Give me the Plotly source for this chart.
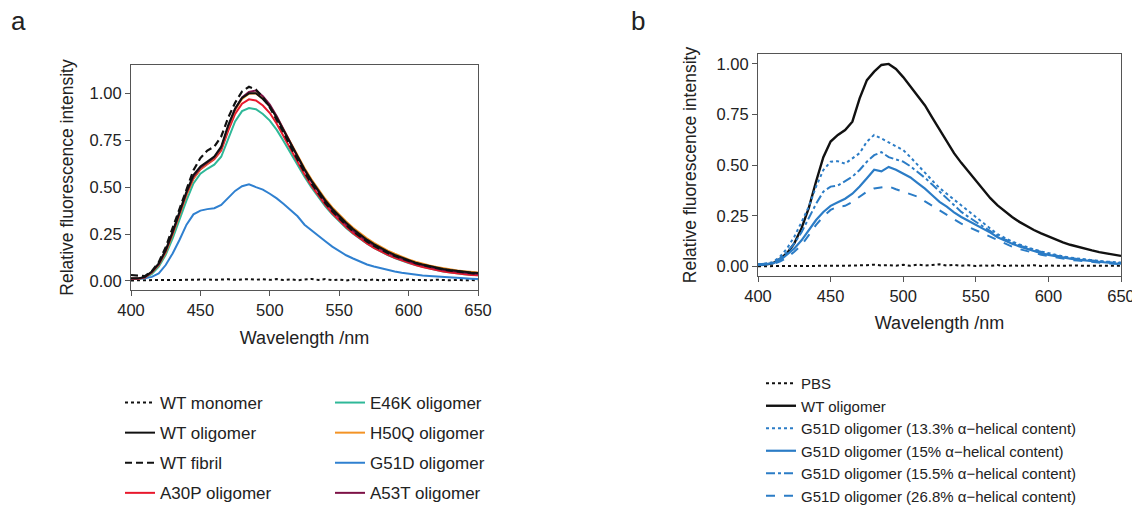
import plotly.graph_objects as go

# ---------------- data ----------------
wavelength = list(range(400, 655, 5))

# Panel a
a_wt_monomer = [0.003,0.004,0.003,0.005,0.004,0.006,0.005,0.006,0.005,0.007,0.006,0.008,0.006,0.007,0.009,0.006,0.008,0.010,0.007,0.009,0.006,0.010,0.005,0.009,0.004,0.008,0.011,0.006,0.010,0.004,0.008,0.003,0.009,0.006,0.004,0.008,0.003,0.007,0.005,0.004,0.008,0.004,0.006,0.003,0.007,0.005,0.004,0.006,0.003,0.005,0.004]
a_wt_oligomer = [0.015,0.014,0.022,0.050,0.094,0.165,0.263,0.370,0.476,0.565,0.610,0.636,0.663,0.716,0.830,0.920,0.975,1.000,1.000,0.970,0.930,0.870,0.800,0.730,0.660,0.595,0.535,0.480,0.430,0.385,0.345,0.310,0.277,0.247,0.220,0.196,0.175,0.156,0.139,0.124,0.110,0.098,0.088,0.079,0.071,0.064,0.058,0.053,0.049,0.045,0.042]
a_wt_fibril = [0.032,0.030,0.026,0.052,0.100,0.180,0.282,0.392,0.492,0.590,0.655,0.695,0.716,0.770,0.870,0.950,1.010,1.035,1.020,0.980,0.925,0.860,0.790,0.715,0.645,0.580,0.520,0.465,0.415,0.372,0.333,0.298,0.265,0.236,0.210,0.187,0.167,0.149,0.133,0.119,0.106,0.095,0.085,0.076,0.068,0.061,0.055,0.050,0.045,0.041,0.038]
a_a30p = [0.012,0.012,0.020,0.046,0.088,0.157,0.252,0.358,0.460,0.545,0.595,0.622,0.648,0.695,0.800,0.890,0.945,0.968,0.962,0.935,0.895,0.838,0.770,0.700,0.632,0.568,0.508,0.454,0.405,0.361,0.322,0.287,0.255,0.226,0.200,0.177,0.157,0.139,0.123,0.109,0.096,0.085,0.075,0.066,0.058,0.051,0.045,0.040,0.036,0.032,0.030]
a_e46k = [0.010,0.010,0.016,0.038,0.076,0.140,0.227,0.330,0.430,0.520,0.572,0.598,0.620,0.662,0.760,0.850,0.905,0.922,0.915,0.890,0.855,0.805,0.745,0.680,0.616,0.555,0.498,0.445,0.398,0.355,0.317,0.283,0.252,0.224,0.199,0.176,0.156,0.138,0.122,0.108,0.096,0.085,0.075,0.066,0.058,0.051,0.045,0.040,0.036,0.033,0.030]
a_h50q = [0.012,0.012,0.019,0.044,0.085,0.152,0.248,0.355,0.460,0.548,0.598,0.626,0.655,0.705,0.818,0.910,0.970,0.998,1.000,0.972,0.933,0.874,0.805,0.736,0.667,0.602,0.542,0.487,0.437,0.392,0.352,0.317,0.284,0.254,0.227,0.203,0.181,0.162,0.145,0.129,0.115,0.103,0.092,0.083,0.075,0.068,0.062,0.056,0.052,0.048,0.045]
a_g51d = [0.010,0.010,0.014,0.022,0.040,0.085,0.147,0.220,0.300,0.355,0.375,0.383,0.388,0.405,0.445,0.480,0.505,0.515,0.500,0.487,0.465,0.440,0.410,0.377,0.345,0.300,0.272,0.242,0.212,0.183,0.158,0.137,0.120,0.102,0.088,0.077,0.067,0.060,0.051,0.044,0.038,0.033,0.029,0.026,0.023,0.020,0.018,0.016,0.014,0.012,0.010]
a_a53t = [0.012,0.012,0.020,0.046,0.088,0.158,0.255,0.362,0.468,0.555,0.603,0.630,0.658,0.708,0.822,0.915,0.978,1.008,1.015,0.985,0.940,0.878,0.806,0.733,0.660,0.592,0.530,0.473,0.422,0.376,0.336,0.300,0.267,0.238,0.212,0.189,0.168,0.150,0.133,0.118,0.105,0.093,0.083,0.074,0.066,0.059,0.053,0.048,0.044,0.040,0.037]

# Panel b
b_pbs = [0.002,0.003,0.002,0.004,0.003,0.004,0.003,0.005,0.004,0.005,0.004,0.006,0.004,0.006,0.005,0.007,0.010,0.006,0.008,0.005,0.009,0.004,0.010,0.006,0.008,0.012,0.005,0.009,0.004,0.007,0.003,0.006,0.004,0.008,0.003,0.006,0.004,0.005,0.007,0.003,0.006,0.004,0.005,0.003,0.006,0.004,0.005,0.003,0.005,0.004,0.004]
b_wt_oligomer = [0.008,0.010,0.016,0.038,0.066,0.115,0.190,0.290,0.420,0.540,0.617,0.650,0.674,0.715,0.830,0.920,0.962,0.995,1.000,0.975,0.935,0.890,0.845,0.795,0.735,0.675,0.615,0.560,0.512,0.467,0.424,0.380,0.338,0.302,0.272,0.245,0.221,0.200,0.181,0.164,0.148,0.133,0.120,0.108,0.098,0.089,0.080,0.072,0.065,0.059,0.053]
b_g51d_133 = [0.012,0.015,0.022,0.048,0.090,0.148,0.220,0.296,0.395,0.477,0.518,0.520,0.508,0.535,0.560,0.617,0.650,0.632,0.612,0.594,0.575,0.540,0.500,0.465,0.425,0.388,0.360,0.334,0.305,0.274,0.245,0.215,0.188,0.160,0.140,0.124,0.110,0.097,0.085,0.075,0.066,0.058,0.051,0.045,0.040,0.036,0.032,0.028,0.025,0.022,0.020]
b_g51d_15 = [0.010,0.012,0.016,0.030,0.058,0.090,0.130,0.180,0.230,0.270,0.300,0.318,0.335,0.360,0.395,0.436,0.478,0.470,0.492,0.478,0.460,0.440,0.412,0.385,0.352,0.320,0.296,0.268,0.245,0.226,0.210,0.190,0.168,0.145,0.128,0.113,0.100,0.088,0.076,0.066,0.058,0.051,0.045,0.040,0.035,0.031,0.028,0.024,0.020,0.017,0.015]
b_g51d_155 = [0.011,0.013,0.018,0.038,0.072,0.115,0.170,0.240,0.310,0.370,0.395,0.400,0.420,0.444,0.477,0.518,0.550,0.565,0.540,0.528,0.518,0.495,0.468,0.438,0.405,0.370,0.336,0.300,0.270,0.245,0.220,0.198,0.175,0.152,0.135,0.119,0.105,0.093,0.082,0.072,0.063,0.055,0.048,0.043,0.038,0.034,0.030,0.027,0.023,0.020,0.018]
b_g51d_268 = [0.008,0.010,0.013,0.025,0.045,0.074,0.107,0.156,0.206,0.247,0.280,0.296,0.300,0.320,0.345,0.370,0.386,0.392,0.396,0.382,0.370,0.358,0.345,0.322,0.300,0.278,0.256,0.232,0.212,0.196,0.180,0.165,0.148,0.130,0.113,0.099,0.087,0.077,0.068,0.059,0.052,0.045,0.039,0.034,0.030,0.026,0.023,0.020,0.017,0.014,0.012]

x_ticks = [400, 450, 500, 550, 600, 650]
y_ticks = [0, 0.25, 0.5, 0.75, 1.0]
y_ticktext = ["0.00", "0.25", "0.50", "0.75", "1.00"]

FONT = "Liberation Sans, Arial, sans-serif"
TXT = "#222222"
BLACK = "#111111"
RED = "#e8182c"
TEAL = "#2fb898"
ORANGE = "#f39325"
BLUE = "#2f80d0"
MAROON = "#7d1146"
BBLUE = "#2b7cc6"

fig = go.Figure()

def add(x, y, name, color, width, dash, xa, ya, legend, rank):
    fig.add_trace(go.Scatter(
        x=x, y=y, name=name, mode="lines",
        line=dict(color=color, width=width, dash=dash),
        xaxis=xa, yaxis=ya, legend=legend, legendrank=rank,
        legendgroup=name + legend,
    ))

# panel a (draw order) ; legend columns
add(wavelength, a_wt_monomer, "WT monomer", BLACK, 2, "dot", "x", "y", "legend", 1)
add(wavelength, a_e46k, "E46K oligomer", TEAL, 2, "solid", "x", "y", "legend2", 1)
add(wavelength, a_g51d, "G51D oligomer", BLUE, 2, "solid", "x", "y", "legend2", 3)
add(wavelength, a_a30p, "A30P oligomer", RED, 2, "solid", "x", "y", "legend", 4)
add(wavelength, a_h50q, "H50Q oligomer", ORANGE, 2, "solid", "x", "y", "legend2", 2)
add(wavelength, a_a53t, "A53T oligomer", MAROON, 2, "solid", "x", "y", "legend2", 4)
add(wavelength, a_wt_oligomer, "WT oligomer", BLACK, 2, "solid", "x", "y", "legend", 2)
add(wavelength, a_wt_fibril, "WT fibril", BLACK, 2.2, "7px,4px", "x", "y", "legend", 3)

# panel b
add(wavelength, b_pbs, "PBS", BLACK, 2, "dot", "x2", "y2", "legend3", 1)
add(wavelength, b_wt_oligomer, "WT oligomer", BLACK, 2.4, "solid", "x2", "y2", "legend3", 2)
add(wavelength, b_g51d_133, "G51D oligomer (13.3% α−helical content)", BBLUE, 2, "dot", "x2", "y2", "legend3", 3)
add(wavelength, b_g51d_15, "G51D oligomer (15% α−helical content)", BBLUE, 2.2, "solid", "x2", "y2", "legend3", 4)
add(wavelength, b_g51d_155, "G51D oligomer (15.5% α−helical content)", BBLUE, 2, "dashdot", "x2", "y2", "legend3", 5)
add(wavelength, b_g51d_268, "G51D oligomer (26.8% α−helical content)", BBLUE, 2, "dash", "x2", "y2", "legend3", 6)

# page body has an 8px margin, so the figure is drawn offset by 8px
OFF = 8
W, H = 1140 - OFF, 510 - OFF

def fx(px):
    return (px - OFF) / W

def fy(py):
    return 1 - (py - OFF) / H

def xax(d0, d1, standoff):
    return dict(domain=[fx(d0), fx(d1)], range=[400, 650], tickvals=x_ticks,
                ticks="outside", ticklen=5, tickwidth=1.2, tickcolor="#555",
                showline=True, mirror=True, linecolor="#555", linewidth=1.2,
                showgrid=False, zeroline=False, automargin=False,
                tickfont=dict(size=16.5, color=TXT, family=FONT),
                title=dict(text="Wavelength /nm", font=dict(size=18, color=TXT, family=FONT), standoff=standoff))

def yax(top, bot, rng, anchor, standoff):
    return dict(domain=[fy(bot), fy(top)], range=rng, tickvals=y_ticks, ticktext=y_ticktext,
                ticks="outside", ticklen=5, tickwidth=1.2, tickcolor="#555",
                showline=True, mirror=True, linecolor="#555", linewidth=1.2,
                showgrid=False, zeroline=False, anchor=anchor, automargin=False,
                tickfont=dict(size=16.5, color=TXT, family=FONT),
                title=dict(text="Relative fluorescence intensity", font=dict(size=17.5, color=TXT, family=FONT), standoff=standoff))

fig.update_layout(
    width=W, height=H,
    margin=dict(l=0, r=0, t=0, b=0, autoexpand=False),
    paper_bgcolor="white", plot_bgcolor="white",
    font=dict(family=FONT, color=TXT),
    xaxis=dict(xax(131, 478, 13), anchor="y"),
    yaxis=yax(65, 290, [-0.048, 1.151], "x", 11),
    xaxis2=dict(xax(758, 1121, 12), anchor="y2"),
    yaxis2=yax(54, 276, [-0.046, 1.049], "x2", 15),
    legend=dict(x=fx(120), y=fy(385), xanchor="left", yanchor="top", traceorder="grouped",
                tracegroupgap=5, font=dict(size=17, color=TXT, family=FONT), bgcolor="rgba(0,0,0,0)"),
    legend2=dict(x=fx(330), y=fy(385), xanchor="left", yanchor="top", traceorder="grouped",
                 tracegroupgap=5, font=dict(size=17, color=TXT, family=FONT), bgcolor="rgba(0,0,0,0)"),
    legend3=dict(x=fx(761), y=fy(367), xanchor="left", yanchor="top", traceorder="grouped",
                 tracegroupgap=0, font=dict(size=15, color=TXT, family=FONT), bgcolor="rgba(0,0,0,0)"),
    annotations=[
        dict(text="a", x=fx(18), y=fy(21), xref="paper", yref="paper", showarrow=False,
             xanchor="center", yanchor="middle", font=dict(size=26, color=TXT, family=FONT)),
        dict(text="b", x=fx(638), y=fy(21), xref="paper", yref="paper", showarrow=False,
             xanchor="center", yanchor="middle", font=dict(size=26, color=TXT, family=FONT)),
    ],
)

for arr in [a_wt_monomer, a_wt_oligomer, a_wt_fibril, a_a30p, a_e46k, a_h50q, a_g51d, a_a53t,
            b_pbs, b_wt_oligomer, b_g51d_133, b_g51d_15, b_g51d_155, b_g51d_268]:
    assert len(arr) == len(wavelength), len(arr)

fig.write_html("out.html")
